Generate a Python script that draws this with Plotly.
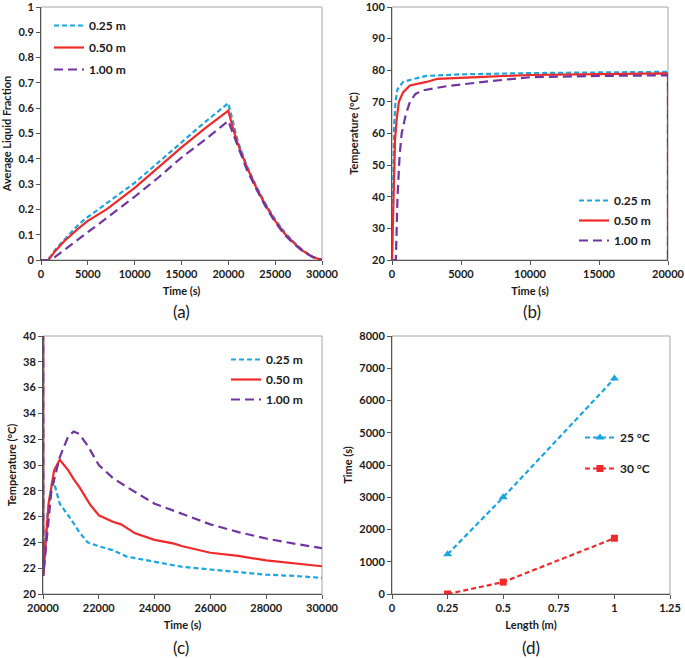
import plotly.graph_objects as go

# ---------------- data ----------------
# (a) Average liquid fraction vs time
a_t_025 = [0, 500, 1000, 1500, 2000, 3000, 4000, 5000, 7000, 10000, 12500, 15000, 17500, 20000,
           20500, 21000, 22000, 23000, 24000, 25000, 26000, 27000, 28000, 29000, 30000]
a_f_025 = [0, 0, 0.012, 0.04, 0.06, 0.1, 0.14, 0.17, 0.225, 0.305, 0.385, 0.465, 0.545, 0.62,
           0.54, 0.47, 0.37, 0.29, 0.22, 0.16, 0.11, 0.07, 0.037, 0.013, 0.0]
a_t_050 = [0, 800, 1500, 2500, 4000, 5000, 7000, 10000, 12500, 15000, 17500, 20000,
           20500, 21000, 22000, 23000, 24000, 25000, 26000, 27000, 28000, 29000, 30000]
a_f_050 = [0, 0, 0.035, 0.075, 0.125, 0.155, 0.2, 0.285, 0.365, 0.445, 0.52, 0.59,
           0.52, 0.46, 0.365, 0.285, 0.215, 0.155, 0.105, 0.067, 0.035, 0.012, 0.0]
a_t_100 = [0, 1000, 1500, 2500, 5000, 7500, 10000, 12500, 15000, 17500, 20000,
           20500, 21000, 22000, 23000, 24000, 25000, 26000, 27000, 28000, 29000, 30000]
a_f_100 = [0, 0, 0.012, 0.04, 0.11, 0.18, 0.25, 0.325, 0.405, 0.475, 0.55,
           0.5, 0.45, 0.355, 0.28, 0.21, 0.15, 0.1, 0.063, 0.033, 0.012, 0.0]

# (b) Temperature during charging
b_t_025 = [0, 60, 150, 250, 400, 800, 1500, 2500, 5000, 10000, 15000, 20000, 20000]
b_T_025 = [20, 40, 62, 70, 74, 76.3, 77.2, 78.2, 78.7, 79.1, 79.3, 79.5, 20]
b_t_050 = [0, 120, 220, 350, 500, 800, 1300, 2500, 3300, 7000, 10000, 15000, 20000, 20000]
b_T_050 = [20, 38, 58, 65, 70, 73, 75.2, 76.3, 77.3, 78, 78.5, 78.8, 79, 20]
b_t_100 = [0, 280, 400, 550, 700, 1000, 1300, 1700, 2200, 4000, 7000, 10000, 15000, 20000, 20000]
b_T_100 = [20, 20, 40, 53, 60, 66, 70, 72.5, 73.6, 75, 76.5, 77.8, 78.2, 78.4, 20]

# (c) Temperature during discharging
c_t_025 = [20000, 20010, 20150, 20350, 20600, 21000, 21300, 21600, 22000, 22500, 23000,
           24000, 25000, 26000, 27000, 28000, 29000, 30000]
c_T_025 = [79.5, 21.4, 26, 29, 27, 25.8, 24.8, 24.0, 23.7, 23.4, 22.9,
           22.5, 22.1, 21.9, 21.7, 21.5, 21.4, 21.25]
c_t_050 = [20000, 20010, 20200, 20400, 20600, 20900, 21100, 21300, 21700, 22000, 22500, 22800,
           23300, 24000, 24700, 25000, 26000, 27000, 28000, 29000, 30000]
c_T_050 = [79, 21.4, 27, 29.6, 30.4, 29.6, 28.9, 28.3, 26.9, 26.1, 25.6, 25.4,
           24.7, 24.2, 23.9, 23.7, 23.2, 22.95, 22.6, 22.4, 22.15]
c_t_100 = [20000, 20010, 20300, 20600, 20900, 21100, 21300, 21600, 22000, 22500, 23000,
           24000, 25000, 26000, 27000, 28000, 29000, 30000]
c_T_100 = [78.4, 21.4, 28, 30.6, 32.2, 32.6, 32.4, 31.5, 30.0, 29.0, 28.3,
           27.0, 26.2, 25.4, 24.8, 24.3, 23.9, 23.55]

# (d) Time vs length
d_len = [0.25, 0.5, 1.0]
d_time_25 = [1230, 3000, 6680]
d_time_30 = [0, 370, 1730]

series_names = ["0.25 m", "0.50 m", "1.00 m"]
d_names = ["25 °C", "30 °C"]

# ---------------- style ----------------
CYAN = "#1CA6DF"
RED = "#EE2A2A"
PURPLE = "#7035A0"
TXT = "#1a1a1a"
FONT = "Lato"
LW = 2.2
styles = [dict(color=CYAN, dash="5px,3px", width=LW),
          dict(color=RED, dash="solid", width=LW),
          dict(color=PURPLE, dash="9px,5px", width=LW)]

fig = go.Figure()

def add_lines(ts, ys, xa, ya, leg):
    for i, (t, y) in enumerate(zip(ts, ys)):
        fig.add_trace(go.Scatter(x=t, y=y, mode="lines", name=series_names[i],
                                 line=styles[i], xaxis=xa, yaxis=ya, legend=leg,
                                 legendgroup=leg + str(i)))

add_lines([a_t_025, a_t_050, a_t_100], [a_f_025, a_f_050, a_f_100], "x", "y", "legend")
add_lines([b_t_025, b_t_050, b_t_100], [b_T_025, b_T_050, b_T_100], "x2", "y2", "legend2")
add_lines([c_t_025, c_t_050, c_t_100], [c_T_025, c_T_050, c_T_100], "x3", "y3", "legend3")

fig.add_trace(go.Scatter(x=d_len, y=d_time_25, mode="lines+markers", name=d_names[0],
                         line=dict(color=CYAN, dash="5px,3px", width=LW),
                         marker=dict(symbol="triangle-up", size=8, color=CYAN),
                         xaxis="x4", yaxis="y4", legend="legend4", legendgroup="d0"))
fig.add_trace(go.Scatter(x=d_len, y=d_time_30, mode="lines+markers", name=d_names[1],
                         line=dict(color=RED, dash="5px,3px", width=LW),
                         marker=dict(symbol="square", size=7, color=RED),
                         xaxis="x4", yaxis="y4", legend="legend4", legendgroup="d1"))

W, H = 685, 658
def px(x): return x / W
def py(y): return 1 - y / H

tickfont = dict(family=FONT, size=11, color=TXT, weight="bold")
titlefont = dict(family=FONT, size=11, color=TXT, weight="bold")

def xaxis(dom, rng, dtick, title, anchor, fmt="d"):
    return dict(domain=dom, range=rng, dtick=dtick, tick0=rng[0], anchor=anchor,
                tickformat=fmt, automargin=False, ticklabeloverflow="allow",
                showgrid=False, zeroline=False, showline=True, linecolor="#555555", linewidth=1,
                ticks="outside", ticklen=4, tickcolor="#555555", tickfont=tickfont,
                title=dict(text=title, font=titlefont, standoff=8))

def yaxis(dom, rng, dtick, title, anchor, fmt=""):
    return dict(domain=dom, range=rng, dtick=dtick, tick0=rng[0], anchor=anchor,
                tickformat=fmt, automargin=False, ticklabeloverflow="allow",
                showgrid=False, zeroline=False, showline=True, linecolor="#555555", linewidth=1,
                ticks="outside", ticklen=4, tickcolor="#555555", tickfont=tickfont,
                title=dict(text=title, font=titlefont, standoff=4))

xa_dom = [px(41), px(322)]
xb_dom = [px(392), px(668)]
xc_dom = [px(43), px(322)]
xd_dom = [px(392), px(670)]
ytop_dom = [py(260), py(7)]
ybot_dom = [py(594), py(336)]

legfont = dict(family=FONT, size=12, color=TXT, weight="bold")
def legend(x, y, gap, xanchor="left"):
    return dict(x=x, y=y, xref="paper", yref="paper", xanchor=xanchor, yanchor="top",
                bgcolor="rgba(0,0,0,0)", font=legfont, tracegroupgap=gap,
                itemwidth=30, borderwidth=0)

fig.update_layout(
    template="none",
    width=W, height=H, margin=dict(l=0, r=0, t=0, b=0, autoexpand=False),
    paper_bgcolor="white", plot_bgcolor="white",
    font=dict(family=FONT, color=TXT),
    xaxis=xaxis(xa_dom, [0, 30000], 5000, "Time (s)", "y"),
    yaxis=yaxis(ytop_dom, [0, 1], 0.1, "Average Liquid Fraction", "x"),
    xaxis2=xaxis(xb_dom, [0, 20000], 5000, "Time (s)", "y2"),
    yaxis2=yaxis(ytop_dom, [20, 100], 10, "Temperature (°C)", "x2", "d"),
    xaxis3=xaxis(xc_dom, [20000, 30000], 2000, "Time (s)", "y3"),
    yaxis3=yaxis(ybot_dom, [20, 40], 2, "Temperature (°C)", "x3", "d"),
    xaxis4=xaxis(xd_dom, [0, 1.25], 0.25, "Length (m)", "y4", ""),
    yaxis4=yaxis(ybot_dom, [0, 8000], 1000, "Time (s)", "x4", "d"),
    legend=legend(px(49), py(11), 3),
    legend2=legend(px(574), py(186), 1),
    legend3=legend(px(226), py(345), 1),
    legend4=legend(px(580), py(423), 12),
    showlegend=True,
)

# light grey frame (top/right borders) around each plot area
for xr, yr in [("x", "y"), ("x2", "y2"), ("x3", "y3"), ("x4", "y4")]:
    fig.add_shape(type="rect", xref=f"{xr} domain", yref=f"{yr} domain",
                  x0=0, x1=1, y0=0, y1=1, line=dict(color="#A6A6A6", width=1),
                  fillcolor="rgba(0,0,0,0)", layer="below")

for lab, x, y in [("(a)", 181, 312), ("(b)", 532, 312), ("(c)", 181, 647), ("(d)", 531, 647)]:
    fig.add_annotation(text=lab, x=px(x), y=py(y), xref="paper", yref="paper",
                       showarrow=False, xanchor="center", yanchor="middle",
                       font=dict(family=FONT, size=17, color=TXT))

fig.write_html("out.html", config={"displayModeBar": False},
               post_script="document.body.style.margin='0';")
